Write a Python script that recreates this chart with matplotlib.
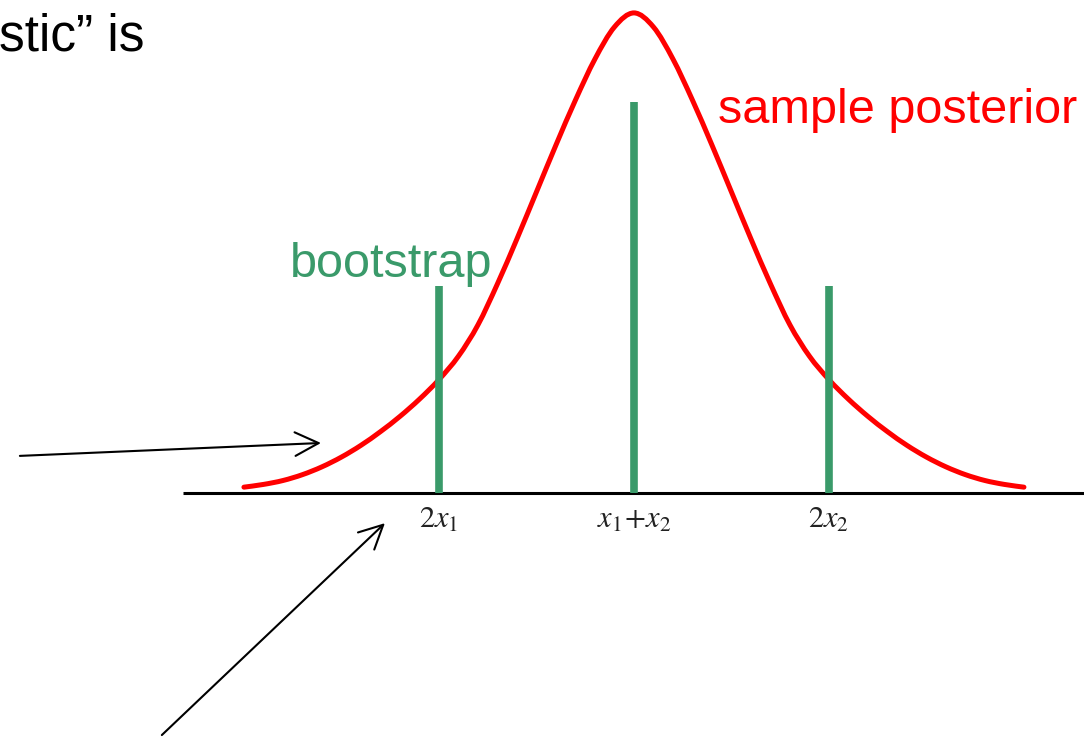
import matplotlib
import matplotlib.pyplot as plt
from matplotlib.path import Path
from matplotlib.patches import PathPatch

matplotlib.use("agg")

plt.rcParams["font.family"] = ["Liberation Sans", "DejaVu Sans"]
plt.rcParams["mathtext.fontset"] = "stix"

# bootstrap spikes at 2x1, x1+x2, 2x2
boot_x = [-1.0, 0.0, 1.0]
boot_h = [0.53, 1.0, 0.53]
boot_labels = [r"$2x_1$", r"$x_1\!+\!x_2$", r"$2x_2$"]

# sample posterior curve
post_x = [-2.0, -1.9, -1.8, -1.7, -1.6, -1.5, -1.4, -1.3, -1.2, -1.1, -1.0,
          -0.9, -0.8, -0.7, -0.6, -0.5, -0.4, -0.3, -0.2, -0.1, 0.0,
          0.1, 0.2, 0.3, 0.4, 0.5, 0.6, 0.7, 0.8, 0.9, 1.0,
          1.1, 1.2, 1.3, 1.4, 1.5, 1.6, 1.7, 1.8, 1.9, 2.0]
post_y = [0.015, 0.022, 0.032, 0.047, 0.067, 0.092, 0.122, 0.157, 0.196, 0.24, 0.29,
          0.35, 0.43, 0.535, 0.65, 0.77, 0.89, 1.005, 1.11, 1.192, 1.228,
          1.192, 1.11, 1.005, 0.89, 0.77, 0.65, 0.535, 0.43, 0.35, 0.29,
          0.24, 0.196, 0.157, 0.122, 0.092, 0.067, 0.047, 0.032, 0.022, 0.015]

# pointer arrows: (tail, head)
arrows = [((-3.149, 0.095), (-1.605, 0.128)),
          ((-2.421, -0.619), (-1.277, -0.077))]

green = "#3a9a6a"


def smooth_path(xs, ys):
    # Catmull-Rom through the read points, drawn as cubic Bezier segments
    pts = list(zip(xs, ys))
    verts = [pts[0]]
    codes = [Path.MOVETO]
    for i in range(len(pts) - 1):
        p0 = pts[max(i - 1, 0)]
        p1 = pts[i]
        p2 = pts[i + 1]
        p3 = pts[min(i + 2, len(pts) - 1)]
        c1 = (p1[0] + (p2[0] - p0[0]) / 6, p1[1] + (p2[1] - p0[1]) / 6)
        c2 = (p2[0] - (p3[0] - p1[0]) / 6, p2[1] - (p3[1] - p1[1]) / 6)
        verts += [c1, c2, p2]
        codes += [Path.CURVE4] * 3
    return Path(verts, codes)


fig = plt.figure(figsize=(10.84, 7.37), dpi=100)
ax = fig.add_axes([0, 0, 1, 1])
ax.set_xlim(-3.251, 2.308)
ax.set_ylim(-0.624, 1.261)
ax.axis("off")

# baseline
ax.plot([-2.313, 2.4], [0, 0], color="black", lw=2.2, solid_capstyle="butt")

ax.add_patch(PathPatch(smooth_path(post_x, post_y), facecolor="none",
                       edgecolor="#ff0000", lw=3.6, capstyle="round"))

ax.vlines(boot_x, 0, boot_h, color=green, lw=5.5)

for x, lab in zip(boot_x, boot_labels):
    ax.text(x, -0.03, lab, ha="center", va="top", fontsize=22, color="#222222")

for tail, head in arrows:
    ax.annotate("", xy=head, xytext=tail,
                arrowprops=dict(arrowstyle="->,head_length=1.7,head_width=0.85",
                                lw=1.5, color="black", shrinkA=0, shrinkB=0))

ax.text(-1.765, 0.553, "bootstrap", color=green, fontsize=35, va="baseline")
ax.text(0.431, 0.946, "sample posterior", color="#ff0000", fontsize=35, va="baseline")
ax.text(-3.256, 1.133, "stic\u201d is", color="black", fontsize=37, va="baseline")

fig.savefig("out.png", dpi=100)
plt.close(fig)
